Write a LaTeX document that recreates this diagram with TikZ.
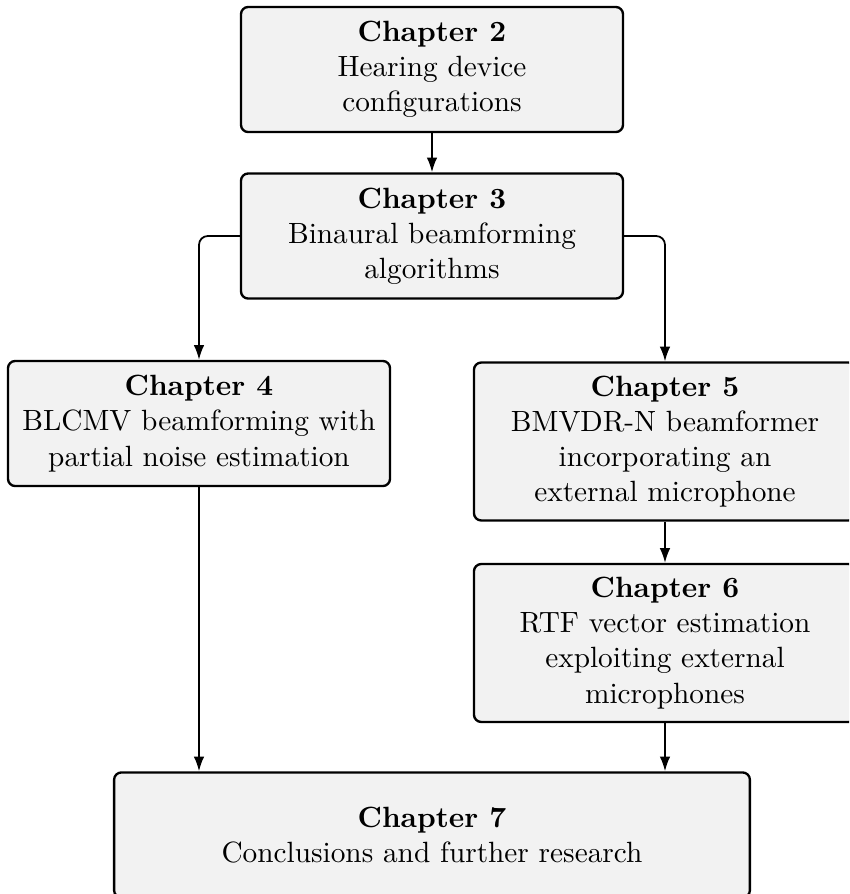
\documentclass[tikz,border=0pt]{standalone}
\usetikzlibrary{arrows.meta}
\begin{document}
\begin{tikzpicture}[
  x=0.3413pt, y=-0.3413pt,
  chapbox/.style={draw, thick, fill=gray!10, rounded corners=2.5pt,
    align=center, inner sep=4.5pt, minimum width=130.4pt, minimum height=42.7pt},
  widebox/.style={chapbox, minimum width=217pt},
  link/.style={semithick, -{Latex[length=5pt,width=3.6pt]}, rounded corners=3pt}
]
\useasboundingbox (0,0) rectangle (849,894);
\clip (0,0) rectangle (849,894);

\node[chapbox] (c2) at (432,69.5) {\textbf{Chapter 2}\\Hearing device\\configurations};
\node[chapbox] (c3) at (432,236) {\textbf{Chapter 3}\\Binaural beamforming\\algorithms};
\node[chapbox] (c4) at (199,423.5) {\textbf{Chapter 4}\\BLCMV beamforming with\\partial noise estimation};
\node[chapbox] (c5) at (665,441.5) {\textbf{Chapter 5}\\BMVDR-N beamformer\\incorporating an\\external microphone};
\node[chapbox] (c6) at (665,643) {\textbf{Chapter 6}\\RTF vector estimation\\exploiting external\\microphones};
\node[widebox] (c7) at (432,835) {\textbf{Chapter 7}\\Conclusions and further research};

\draw[link] (c2) -- (c3);
\draw[link] (c3.west) -| (c4.north);
\draw[link] (c3.east) -| (c5.north);
\draw[link] (c5) -- (c6);
\draw[link] (c4.south) -- (c4.south |- c7.north);
\draw[link] (c6.south) -- (c6.south |- c7.north);
\end{tikzpicture}
\end{document}
